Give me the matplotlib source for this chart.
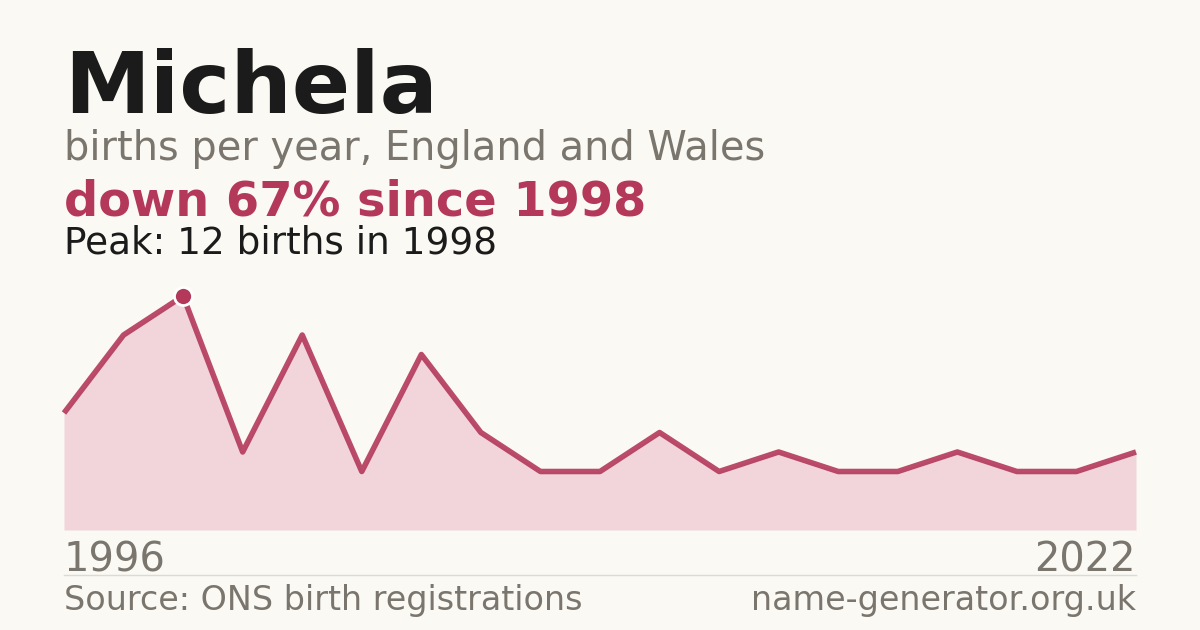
import numpy as np
import matplotlib.pyplot as plt

plt.rcParams['font.family'] = ['DejaVu Sans']

# births per year for "Michela" (points as published, first and last year labelled)
first_year = "1996"
last_year = "2022"
births = [6, 10, 12, 4, 10, 3, 9, 5, 3, 3, 5, 3, 4, 3, 3, 4, 3, 3, 4]
peak_index = 2

bg = "#faf9f4"
red = "#b3385a"
grey = "#7a756d"

W, H = 1200, 630
fig = plt.figure(figsize=(12, 6.3), dpi=100, facecolor=bg)

def fx(px):
    return px / W

def fy(py):
    return 1 - py / H

fig.text(fx(64), fy(113), "Michela", fontsize=62, fontweight="bold", color="#1b1b1b", va="baseline")
fig.text(fx(64), fy(160), "births per year, England and Wales", fontsize=28.7, color=grey, va="baseline")
fig.text(fx(64), fy(215), "down 67% since 1998", fontsize=34.5, fontweight="bold", color=red, va="baseline")
fig.text(fx(64), fy(254), "Peak: 12 births in 1998", fontsize=26.9, color="#1b1b1b", va="baseline")

ax = fig.add_axes([fx(64), fy(530), fx(1136) - fx(64), fy(296) - fy(530)])
ax.set_facecolor("none")
x = np.arange(len(births))
ax.fill_between(x, 0, births, color="#f1d5db", lw=0)
ax.plot(x, births, color=red, lw=4.0, alpha=0.9, solid_capstyle="butt", clip_on=False)
ax.plot(x[peak_index], births[peak_index], "o", ms=13, color=red, mec="white", mew=2, clip_on=False, zorder=5)
ax.set_xlim(0, len(births) - 1)
ax.set_ylim(0, 12)
ax.axis("off")

fig.text(fx(64), fy(571), first_year, fontsize=28.8, color=grey, va="baseline")
fig.text(fx(1136), fy(571), last_year, fontsize=28.8, color=grey, va="baseline", ha="right")

fig.add_artist(plt.Line2D([fx(64), fx(1136)], [fy(574.5), fy(574.5)], color="#dddad3", lw=1))

fig.text(fx(64), fy(610), "Source: ONS birth registrations", fontsize=24, color=grey, va="baseline")
fig.text(fx(1136), fy(610), "name-generator.org.uk", fontsize=24, color=grey, va="baseline", ha="right")

fig.savefig("out.png", dpi=100, facecolor=bg)
